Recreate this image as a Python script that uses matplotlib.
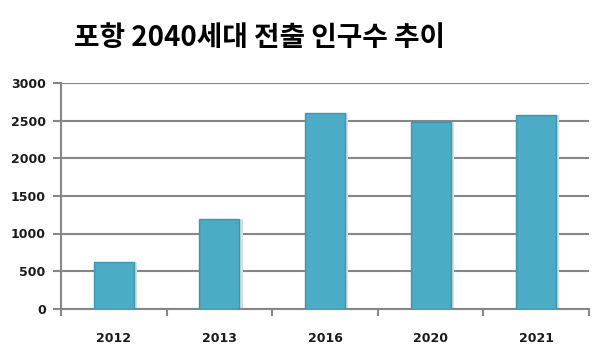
import matplotlib
matplotlib.use("Agg")
import matplotlib.pyplot as plt
import numpy as np

categories = ["2012", "2013", "2016", "2020", "2021"]
values = [620, 1200, 2600, 2490, 2580]
yticks = [0, 500, 1000, 1500, 2000, 2500, 3000]

plt.rcParams['font.family'] = ['Noto Sans CJK KR', 'DejaVu Sans']

fig = plt.figure(figsize=(6.0, 3.61), dpi=100)
ax = fig.add_axes([61/600, 1-308.5/361, (589-61)/600, 225/361])

x = np.arange(len(categories))
# shadow
ax.bar(x + 0.03, values, width=0.38, color="#dcdcdc", edgecolor="none", zorder=2)
ax.bar(x, values, width=0.38, color="#4BACC6", edgecolor="#3a97b0", linewidth=1, zorder=3)

tickfont = dict(family='DejaVu Sans', size=9, weight='bold')
ax.set_xlim(-0.5, len(categories) - 0.5)
ax.set_ylim(0, 3000)
ax.set_yticks(yticks)
ax.set_yticklabels([str(v) for v in yticks], fontdict=tickfont, color="#1a1a1a")
ax.set_xticks(x)
ax.set_xticklabels(categories, fontdict=tickfont, color="#1a1a1a")
ax.set_xticks(np.arange(len(categories) + 1) - 0.5, minor=True)
ax.tick_params(axis='x', which='major', length=0, pad=17)
ax.tick_params(axis='x', which='minor', length=5, color="#868686", width=1.5)
ax.tick_params(axis='y', length=6, color="#868686", width=1.5, pad=5)

ax.grid(axis='y', color="#868686", linewidth=1.5, zorder=1)
ax.set_axisbelow(True)
for s in ["top", "right"]:
    ax.spines[s].set_visible(False)
for s in ["left", "bottom"]:
    ax.spines[s].set_color("#868686")
    ax.spines[s].set_linewidth(1.5)

fig.text(259/600, 1-38/361, "포항 2040세대 전출 인구수 추이", ha='center', va='center',
         fontsize=20, fontweight='bold', color="black")

fig.savefig("out.png", dpi=100)
